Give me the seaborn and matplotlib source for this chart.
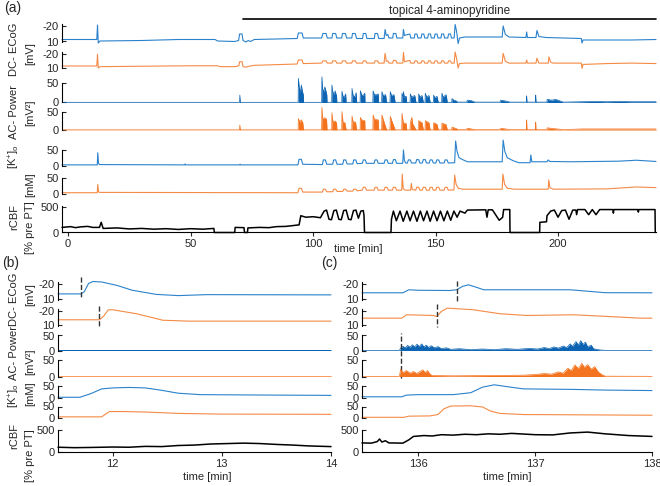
import numpy as np
import matplotlib
matplotlib.use("Agg")
import matplotlib.pyplot as plt
import seaborn as sns

sns.set_style("white")
plt.rcParams['font.family'] = ['Liberation Sans', 'DejaVu Sans']
plt.rcParams['axes.unicode_minus'] = False
plt.rcParams['mathtext.fontset'] = 'custom'
plt.rcParams['mathtext.rm'] = 'Liberation Sans'

BLUE = '#2a82cc'
ORANGE = '#f58a44'
BLUE_FILL = '#0c64b2'
ORANGE_FILL = '#f4731f'

### panel (a): (time [min], value) break points
a_dc_blue = [(-2.5, 6), (11.7, 6), (12.0, -23), (12.3, 13), (13, 9), (30, 8), (45, 6), (60, 6), (61, 9), (68, 10),
             (69.6, 8), (70.0, -5), (71.0, -5), (71.4, 8), (72.5, 11), (73.5, 8), (74.5, 10), (76, 6), (93.5, 4),
             (94.0, -7), (95.5, -7), (96.0, 3), (103.5, 3), (104.0, -6), (105.3, -6), (105.8, 3), (107.7, 3),
             (108.0, -6), (109.2, -6), (109.7, 3), (111.7, 3), (112.0, -6), (113.2, -6), (113.7, 3), (115.8, 3),
             (116.1, -6), (117.2, -6), (117.8, 4), (120.2, 4), (120.5, -6), (121.5, -6), (122.0, 4), (125.0, 4),
             (125.3, -6), (126.3, -6), (126.8, 4), (129.0, 4), (129.4, -14), (129.9, -2), (130.5, -4), (131.0, 3),
             (132.5, 3), (132.8, -6), (133.8, -6), (134.2, 3), (136.6, 3), (136.9, -14), (137.3, -2), (138.6, -4),
             (139.5, -5), (139.9, 3), (141.3, 3), (141.6, -5), (142.4, -5), (142.8, 3), (144.1, 3), (144.4, -5),
             (145.2, -5), (145.6, 3), (146.8, 3), (147.1, -5), (147.9, -5), (148.3, 3), (149.5, 3), (149.8, -5),
             (150.6, -5), (151.0, 3), (152.2, 3), (152.5, -5), (153.3, -5), (153.7, 3), (155.0, 3), (155.3, -5),
             (156.1, -5), (156.5, 3), (157.6, 3), (158.0, -24), (158.6, -10), (159.2, 14), (159.8, 3), (162, 1),
             (170, 1), (177.2, 1), (177.6, -21), (178.5, -4), (180, 1), (186.9, 2), (187.2, -9), (187.5, 2),
             (191.0, 2), (191.4, -12), (192.2, 0), (195, 2), (209.5, 4), (209.8, 13), (210.2, 7), (220, 7),
             (230, 7), (240, 6)]
a_dc_orange = [(-2.5, 6.5), (11.7, 6.5), (12.0, -20), (12.3, 11), (13, 8), (30, 7), (50, 6), (61, 6), (62, 8),
               (68, 8), (69.7, 6), (70.0, -3), (71.0, -3), (71.4, 8), (72.5, 9), (74, 7), (76, 5), (93.5, 2),
               (94.0, -7), (95.5, -7), (96.0, 1), (103.5, 0), (104.0, -5), (105.3, -5), (105.8, 0), (107.7, 0),
               (108.0, -5), (109.2, -5), (109.7, 0), (111.7, 0), (112.0, -5), (113.2, -5), (113.7, 0), (115.8, 0),
               (116.1, -5), (117.2, -5), (117.8, 0), (120.2, 0), (120.5, -5), (121.5, -5), (122.0, 0), (125.0, 0),
               (125.3, -5), (126.3, -5), (126.8, 0), (129.0, 0), (129.4, -22), (129.9, -4), (130.5, -5), (131, 0),
               (132.5, 0), (132.8, -6), (133.8, -6), (134.2, 0), (136.6, 0), (136.9, -24), (137.3, -3), (138.6, -5),
               (139.5, -6), (139.9, 0), (141.3, 0), (141.6, -5), (142.4, -5), (142.8, 0), (144.1, 0), (144.4, -5),
               (145.2, -5), (145.6, 0), (146.8, 0), (147.1, -5), (147.9, -5), (148.3, 0), (149.5, 0), (149.8, -5),
               (150.6, -5), (151.0, 0), (152.2, 0), (152.5, -5), (153.3, -5), (153.7, 0), (155.0, 0), (155.3, -5),
               (156.1, -5), (156.5, 0), (157.6, 0), (158.0, -25), (158.6, -10), (159.2, 11), (159.8, 1), (162, 0),
               (170, 0), (177.2, 0), (177.6, -22), (178.5, -4), (180, 0), (186.9, 0), (187.2, -7), (187.5, 0),
               (191.0, 0), (191.4, -11), (192.2, 0), (196.0, 0), (196.3, -14), (197, -2), (198, 0), (209.5, 0),
               (209.8, 12), (210.2, 3), (220, 1), (230, 0), (240, 1)]
a_ac_blue = [(-2.5, 0.5), (70.0, 0.5), (70.1, 19), (70.3, 0.5), (93.9, 0.5), (94.0, 62), (94.3, 40), (94.8, 25),
             (95.2, 45), (95.6, 30), (96.0, 20), (96.1, 0.5), (103.5, 0.5), (103.6, 66), (103.9, 35), (104.3, 28),
             (104.8, 40), (105.3, 28), (105.6, 20), (105.7, 0.5), (107.6, 0.5), (107.7, 45), (108.0, 28),
             (108.6, 20), (109.0, 30), (109.6, 16), (109.7, 0.5), (111.7, 0.5), (111.8, 29), (112.2, 16),
             (112.8, 14), (113.3, 22), (113.5, 0.5), (115.8, 0.5), (115.9, 36), (116.3, 18), (117.0, 15),
             (117.6, 25), (117.8, 0.5), (119.2, 0.5), (119.3, 30), (119.8, 20), (120.5, 18), (121.1, 24),
             (121.2, 0.5), (124.4, 0.5), (124.5, 30), (125.0, 20), (126.0, 20), (126.6, 22), (126.7, 0.5),
             (128.0, 0.5), (128.1, 28), (128.6, 18), (129.6, 20), (130.0, 0.5), (131.4, 0.5), (131.5, 28),
             (132.0, 18), (133.0, 20), (133.5, 0.5), (136.2, 0.5), (136.3, 24), (136.8, 14), (136.9, 28),
             (137.2, 14), (138.0, 16), (138.2, 0.5), (139.6, 0.5), (139.7, 22), (140.2, 14), (141.5, 18),
             (142.0, 0.5), (143.0, 0.5), (143.1, 22), (143.6, 14), (144.5, 18), (145.0, 0.5), (145.7, 0.5),
             (145.8, 24), (146.3, 14), (147.3, 18), (147.8, 0.5), (149.1, 0.5), (149.2, 19), (149.7, 12),
             (150.6, 16), (151.1, 0.5), (152.5, 0.5), (152.6, 24), (153.1, 14), (154.3, 20), (154.8, 0.5),
             (156.6, 0.5), (156.7, 10), (157.5, 6), (158.5, 4), (159, 1), (162.7, 1), (163.0, 6), (164.5, 5),
             (166.1, 1), (176.3, 1), (176.6, 6), (178.5, 4), (180.4, 1), (187.1, 1), (187.2, 17), (187.3, 1),
             (190.8, 1), (190.9, 19), (191.0, 1), (195.4, 1), (195.6, 8), (197.5, 6), (199, 8), (202.2, 1),
             (210, 2), (215, 3), (220, 2), (225, 3), (230, 2), (240, 2)]
a_ac_orange = [(-2.5, 0.5), (70.0, 0.5), (70.1, 14), (70.3, 0.5), (93.9, 0.5), (94.0, 32), (94.5, 22), (95.2, 28),
               (95.8, 20), (96.1, 0.5), (103.5, 0.5), (103.6, 63), (103.9, 32), (104.8, 34), (105.5, 30),
               (105.7, 0.5), (107.6, 0.5), (107.7, 48), (108.1, 23), (109.0, 25), (109.6, 20), (109.7, 0.5),
               (111.7, 0.5), (111.8, 51), (112.2, 22), (113.0, 20), (113.5, 0.5), (115.8, 0.5), (115.9, 39),
               (116.3, 23), (117.3, 22), (117.8, 0.5), (119.2, 0.5), (119.3, 35), (119.8, 28), (121.1, 26),
               (121.2, 0.5), (124.4, 0.5), (124.5, 42), (125.0, 30), (126.6, 28), (126.7, 0.5), (128.0, 0.5),
               (128.1, 42), (128.6, 30), (130.0, 0.5), (131.4, 0.5), (131.5, 38), (132.0, 28), (133.5, 0.5),
               (136.2, 0.5), (136.3, 46), (136.8, 20), (138.0, 18), (138.2, 0.5), (139.6, 0.5), (139.7, 20),
               (140.3, 35), (140.6, 18), (142.0, 0.5), (143.0, 0.5), (143.1, 26), (144.5, 20), (145.0, 0.5),
               (145.7, 0.5), (145.8, 26), (147.3, 20), (147.8, 0.5), (149.1, 0.5), (149.2, 20), (150.6, 16),
               (151.1, 0.5), (152.5, 0.5), (152.6, 19), (154.3, 15), (154.8, 0.5), (156.6, 0.5), (156.7, 8),
               (158.5, 4), (159, 1), (162.7, 1), (163, 5), (166.1, 1), (176.3, 1), (176.6, 5), (180.4, 1),
               (187.1, 1), (187.2, 28), (187.3, 1), (190.8, 1), (190.9, 22), (191.0, 1), (195.4, 1), (195.6, 6),
               (202.2, 1), (210, 3), (220, 3), (230, 3), (240, 3)]
a_k_blue = [(-2.5, 2), (11.9, 2), (12.1, 41), (12.4, 8), (12.8, 3), (47.6, 2), (47.8, 5), (48.0, 2), (70, 2),
            (70.2, 4), (70.4, 2), (93.8, 2), (94.3, 20), (95.2, 20), (95.8, 4), (103.8, 3), (104.2, 18),
            (105.0, 18), (105.6, 4), (108.0, 4), (108.4, 18), (109.2, 18), (109.8, 4), (112.1, 4), (112.5, 18),
            (113.3, 18), (113.9, 5), (116.2, 5), (116.6, 18), (117.4, 18), (118.0, 6), (120.1, 7), (120.5, 18),
            (121.3, 18), (121.8, 7), (124.9, 7), (125.3, 18), (126.1, 18), (126.6, 7), (129.0, 7), (129.4, 18),
            (130.2, 18), (130.7, 7), (132.4, 7), (132.8, 19), (133.6, 19), (134.1, 7), (136.6, 7), (136.9, 50),
            (137.3, 16), (137.8, 8), (138.5, 8), (138.9, 18), (139.7, 18), (140.2, 8), (141.9, 8), (142.3, 19),
            (143.1, 19), (143.6, 8), (144.6, 8), (145.0, 19), (145.8, 19), (146.3, 8), (147.4, 8), (147.8, 18),
            (148.6, 18), (149.1, 8), (150.1, 8), (150.5, 18), (151.3, 18), (151.8, 8), (153.5, 8), (153.9, 18),
            (154.7, 18), (155.2, 8), (157.8, 9), (158.2, 79), (158.8, 45), (159.6, 25), (161.3, 18), (163, 12),
            (170, 12), (177.2, 12), (177.6, 82), (178.3, 45), (179.3, 25), (181.8, 15), (184, 9), (188.6, 9),
            (188.9, 34), (189.3, 12), (195.5, 12), (196.0, 18), (196.6, 13), (205, 12), (215, 13), (225, 14),
            (232, 17), (240, 13)]
a_k_orange = [(-2.5, 4), (11.9, 4), (12.1, 30), (12.4, 8), (12.8, 5), (93.8, 4), (94.3, 18), (95.2, 18),
              (95.8, 6), (103.8, 6), (104.2, 15), (105.0, 15), (105.6, 7), (108.0, 7), (108.4, 15), (109.2, 15),
              (109.8, 8), (112.1, 8), (112.5, 15), (113.3, 15), (113.9, 9), (116.2, 9), (116.6, 15), (117.4, 15),
              (118.0, 10), (120.1, 12), (120.5, 21), (121.3, 21), (121.8, 12), (124.9, 12), (125.3, 21),
              (126.1, 21), (126.6, 12), (129.0, 12), (129.4, 21), (130.2, 21), (130.7, 12), (132.4, 12),
              (132.8, 21), (133.6, 21), (134.1, 12), (136.2, 12), (136.4, 62), (136.8, 18), (137.5, 12),
              (139.8, 12), (140.1, 33), (140.5, 14), (141.9, 12), (142.3, 21), (143.1, 21), (143.6, 12),
              (144.6, 12), (145.0, 21), (145.8, 21), (146.3, 12), (147.4, 12), (147.8, 21), (148.6, 21),
              (149.1, 12), (150.1, 12), (150.5, 21), (151.3, 21), (151.8, 12), (153.5, 12), (153.9, 21),
              (154.7, 21), (155.2, 12), (157.5, 13), (157.8, 59), (158.4, 30), (159.3, 18), (161, 15), (177.2, 15),
              (177.5, 62), (178.2, 30), (179.3, 18), (182, 15), (196.0, 15), (196.2, 44), (196.7, 20), (198, 15),
              (220, 16), (232, 22), (240, 20)]
a_cbf = [(-2.5, 100), (1, 115), (3, 95), (5, 110), (8, 120), (10, 100), (12.8, 100), (13.5, 200), (14.3, 80),
         (20, 90), (25, 70), (30, 80), (35, 65), (40, 75), (45, 60), (50, 75), (55, 65), (59.5, 80), (59.7, 0),
         (68.0, 0), (68.2, 100), (71.8, 95), (72.0, 0), (73.2, 0), (73.4, 90), (78, 100), (82, 95), (85, 115),
         (89, 120), (94.3, 150), (95.0, 330), (97, 300), (100, 310), (103, 290), (104.5, 420), (105.5, 440),
         (106.5, 260), (107.5, 250), (108.5, 430), (109.5, 440), (110.5, 260), (111.5, 250), (112.5, 430),
         (113.5, 440), (114.5, 260), (115.5, 250), (116.5, 430), (117.5, 440), (118.5, 280), (119.5, 420),
         (120.5, 430), (120.8, 330), (121.0, 0), (131.8, 0), (132.0, 260), (132.8, 420), (134.0, 230),
         (135.5, 420), (136.8, 220), (138.3, 420), (139.6, 230), (141.0, 420), (142.4, 220), (143.8, 420),
         (145.1, 230), (146.5, 420), (147.8, 220), (149.2, 420), (150.6, 230), (152.0, 420), (153.4, 230),
         (154.8, 420), (156.2, 240), (157.5, 420), (158.8, 300), (160.0, 420), (161.0, 400), (162.0, 380),
         (163.0, 440), (170.5, 445), (171.0, 300), (171.5, 445), (173.2, 445), (174.5, 350), (176.0, 240),
         (177.4, 300), (177.8, 450), (180.3, 450), (180.4, 0), (192.5, 0), (192.6, 200), (195.3, 210),
         (195.5, 330), (197, 420), (198.5, 440), (200, 300), (201.5, 430), (203, 440), (204.5, 260), (206, 440),
         (207.3, 440), (207.6, 350), (208, 450), (211, 450), (212.5, 350), (214, 450), (215.5, 350), (217, 450),
         (222.4, 450), (222.6, 380), (222.8, 450), (232.6, 450), (232.8, 400), (233, 450), (239.6, 450),
         (239.7, 0)]
a_drug = [71.5, 240]

### panel (b)
b_dc_blue = [(11.5, -0.5), (11.71, -0.5), (11.74, -5), (11.78, -22), (11.82, -26), (11.9, -25), (12.04, -18),
             (12.18, -8), (12.4, 0.5), (12.6, 3), (12.86, 1), (14.0, 1.5)]
b_dc_orange = [(11.5, -1.5), (11.88, -1.5), (11.92, -10), (11.96, -23), (12.0, -23.4), (12.22, -14.6),
               (12.46, -0.5), (12.7, 1.5), (14.0, 1.5)]
b_ac = [(11.5, 0.5), (14.0, 0.5)]
b_k_blue = [(11.5, 3), (11.7, 3), (11.8, 18), (11.9, 38), (12.0, 42), (12.15, 44), (12.3, 42), (12.45, 32),
            (12.6, 20), (12.8, 14), (13.5, 12), (14.0, 11)]
b_k_orange = [(11.5, 5), (11.9, 5), (11.93, 15), (11.97, 28), (12.1, 28), (12.3, 26), (12.6, 20), (13.0, 17),
              (14.0, 16)]
b_cbf = [(11.5, 110), (11.65, 100), (11.8, 105), (12.0, 115), (12.15, 110), (12.3, 130), (12.45, 125),
         (12.6, 150), (12.75, 160), (12.9, 185), (13.05, 195), (13.2, 205), (13.35, 195), (13.5, 175),
         (13.65, 160), (13.8, 140), (14.0, 125)]
b_marks = [11.71, 11.88]

### panel (c)
c_dc_blue = [(135.52, -2.8), (135.87, -2.8), (135.92, -9), (136.0, -8), (136.27, -7.5), (136.33, -9), (136.38, -16),
             (136.43, -19.3), (136.5, -14), (136.56, -9), (137.0, -9), (137.3, -9), (137.6, -3), (138.0, -2.8)]
c_dc_orange = [(135.52, -5), (135.86, -5), (135.9, -12.4), (136.13, -10.9), (136.16, -8.7), (136.2, -20),
               (136.25, -26.9), (136.47, -23.4), (136.7, -14.6), (136.93, -10.9), (137.33, -12.4), (137.6, -9),
               (137.9, -5), (138.0, -5)]
c_ac_blue = [(135.52, 0.5), (135.84, 0.5), (135.85, 8), (135.87, 14), (135.89, 9), (135.91, 17), (135.93, 11),
             (135.95, 19), (135.97, 12), (135.99, 21), (136.01, 13), (136.03, 22), (136.05, 12), (136.07, 18),
             (136.09, 10), (136.11, 16), (136.14, 9), (136.17, 13), (136.2, 6), (136.24, 9), (136.28, 4),
             (136.35, 6), (136.45, 3), (136.55, 5), (136.65, 3), (136.75, 6), (136.85, 4), (136.95, 7), (137.02, 5),
             (137.08, 10), (137.12, 6), (137.16, 12), (137.2, 8), (137.24, 15), (137.27, 10), (137.3, 22),
             (137.32, 14), (137.35, 30), (137.37, 18), (137.39, 33), (137.41, 20), (137.43, 28), (137.45, 12),
             (137.48, 18), (137.5, 6), (137.55, 2), (137.6, 0.5), (138.0, 0.5)]
c_ac_orange = [(135.52, 0.5), (135.84, 0.5), (135.85, 22), (135.87, 12), (135.9, 18), (135.93, 10), (135.96, 15),
               (135.99, 9), (136.02, 16), (136.04, 20), (136.06, 12), (136.08, 18), (136.1, 8), (136.12, 3),
               (136.3, 2), (136.6, 3), (136.9, 4), (137.0, 6), (137.08, 9), (137.14, 7), (137.2, 14), (137.24, 10),
               (137.28, 25), (137.31, 18), (137.34, 35), (137.37, 24), (137.4, 40), (137.42, 28), (137.45, 36),
               (137.48, 22), (137.51, 30), (137.54, 14), (137.57, 6), (137.6, 1), (138.0, 0.5)]
c_k_blue = [(135.52, 5), (135.86, 5), (135.9, 12), (136.0, 14), (136.3, 14), (136.45, 22), (136.55, 45),
            (136.65, 55), (136.75, 48), (136.9, 38), (137.3, 36), (137.6, 33), (138.0, 31)]
c_k_orange = [(135.52, 3), (135.88, 3), (135.92, 8), (136.1, 9), (136.17, 15), (136.22, 40), (136.28, 52),
              (136.45, 53), (136.55, 48), (136.62, 30), (136.7, 20), (136.9, 15), (137.3, 14), (138.0, 12)]
c_cbf = [(135.52, 210), (135.6, 205), (135.65, 240), (135.67, 300), (135.69, 230), (135.72, 260), (135.75, 210),
         (135.87, 205), (135.92, 280), (135.96, 360), (136.05, 380), (136.12, 370), (136.2, 400), (136.3, 390),
         (136.4, 410), (136.5, 400), (136.6, 420), (136.7, 410), (136.8, 430), (136.9, 415), (137.0, 400),
         (137.15, 395), (137.3, 440), (137.45, 460), (137.6, 420), (137.8, 380), (138.0, 360)]
c_marks_dc = [136.33, 136.16]
c_mark_ac = 135.85

W, H = 660, 486
fig = plt.figure(figsize=(6.6, 4.86), dpi=100)


def px_axes(x0, x1, y0, y1):
    return fig.add_axes([x0 / W, 1 - y1 / H, (x1 - x0) / W, (y1 - y0) / H])


def px_text(x, y, s, **kw):
    fig.text(x / W, 1 - y / H, s, **kw)


def trace(ax, pts, color, lw=0.8):
    t, v = np.array(pts).T
    sns.lineplot(x=t, y=v, ax=ax, color=color, lw=lw, estimator=None, sort=False, clip_on=False)


def power(ax, pts, fill):
    t, v = np.array(pts).T
    ax.fill_between(t, 0, v, color=fill, lw=0, clip_on=False)
    sns.lineplot(x=t, y=v, ax=ax, color=fill, lw=0.5, estimator=None, sort=False, clip_on=False)


def style(ax, xlim, kind, last=False):
    ax.set_xlim(xlim)
    if kind == 'dc':
        ax.set_ylim(11, -25)
        ax.set_yticks([-20, 10])
    elif kind == 'cbf':
        ax.set_ylim(0, 520)
        ax.set_yticks([0, 500])
    else:
        ax.set_ylim(0, 50)
        ax.set_yticks([0, 50])
    ax.set_xlabel('')
    ax.set_ylabel('')
    ax.patch.set_alpha(0)
    for s in ['top', 'right']:
        ax.spines[s].set_visible(False)
    ax.spines['bottom'].set_visible(last)
    for s in ['left', 'bottom']:
        ax.spines[s].set_linewidth(0.8)
        ax.spines[s].set_color('black')
    ax.tick_params(axis='y', direction='in', length=3, width=0.8, labelsize=8, pad=2.5, left=True)
    if last:
        ax.tick_params(axis='x', direction='out', length=3, width=0.8, labelsize=8, pad=2, bottom=True)
    else:
        ax.set_xticks([])


kinds = ['dc', 'dc', 'ac', 'ac', 'k', 'k', 'cbf']
A_ROWS = [(24, 42), (52, 68), (83, 102.5), (112, 130), (150, 165.5), (178, 194), (206, 232.5)]
BC_ROWS = [(282, 299.5), (309, 325.5), (335.5, 350.5), (360, 376.5), (386, 398), (406.5, 418), (429.5, 452)]

a_axes = [px_axes(62, 656, r[0], r[1]) for r in A_ROWS]
a_data = [a_dc_blue, a_dc_orange, a_ac_blue, a_ac_orange, a_k_blue, a_k_orange, a_cbf]
b_axes = [px_axes(58, 331, r[0], r[1]) for r in BC_ROWS]
b_data = [b_dc_blue, b_dc_orange, b_ac, b_ac, b_k_blue, b_k_orange, b_cbf]
c_axes = [px_axes(362, 652, r[0], r[1]) for r in BC_ROWS]
c_data = [c_dc_blue, c_dc_orange, c_ac_blue, c_ac_orange, c_k_blue, c_k_orange, c_cbf]

for axes, data, xlim in [(a_axes, a_data, (-2.5, 240)), (b_axes, b_data, (11.5, 14)), (c_axes, c_data, (135.52, 138))]:
    for i, (ax, pts) in enumerate(zip(axes, data)):
        if kinds[i] == 'ac':
            power(ax, pts, BLUE_FILL if i == 2 else ORANGE_FILL)
        elif kinds[i] == 'cbf':
            trace(ax, pts, 'black', lw=1.1)
        else:
            trace(ax, pts, BLUE if i % 2 == 0 else ORANGE)
        style(ax, xlim, kinds[i], last=(i == 6))

a_axes[6].set_xticks([0, 50, 100, 150, 200])
b_axes[6].set_xticks([12, 13, 14])
c_axes[6].set_xticks([136, 137, 138])

# drug application bar
ax = a_axes[0]
ax.plot(a_drug, [1.26, 1.26], color='black', lw=1.2, transform=ax.get_xaxis_transform(), clip_on=False)
ax.text(np.mean(a_drug), 1.72, 'topical 4-aminopyridine', fontsize=8.5,
        ha='center', va='center', transform=ax.get_xaxis_transform())

# dashed onset marks
b_axes[0].vlines(b_marks[0], -36, 7, colors='#333333', linestyles='--', lw=1, clip_on=False)
b_axes[1].vlines(b_marks[1], -30.6, 15.4, colors='#333333', linestyles='--', lw=1, clip_on=False)
c_axes[0].vlines(c_marks_dc[0], -28, 17.8, colors='#333333', linestyles='--', lw=1, clip_on=False)
c_axes[1].vlines(c_marks_dc[1], -36.5, 13.2, colors='#333333', linestyles='--', lw=1, clip_on=False)
c_axes[2].vlines(c_mark_ac, -92, 57, colors='#333333', linestyles='--', lw=1, clip_on=False, zorder=5)

# labels
px_text(4, 8, '(a)', fontsize=10, ha='left', va='center')
px_text(2, 263, '(b)', fontsize=10, ha='left', va='center')
px_text(321, 263, '(c)', fontsize=10, ha='left', va='center')
lab = dict(fontsize=8, rotation=90, ha='center', va='center')
px_text(14, 49, 'DC- ECoG', **lab)
px_text(30, 54, '[mV]', **lab)
px_text(14, 112, 'AC- Power', **lab)
px_text(30, 113, '[mV²]', **lab)
px_text(14, 157, r'[K$^{+}$]$_{\rm o}$', **lab)
px_text(30, 185, '[mM]', **lab)
px_text(14, 217, 'rCBF', **lab)
px_text(30, 228, '[% pre PT]', **lab)
px_text(14, 299, 'DC- ECoG', **lab)
px_text(30, 295, '[mV]', **lab)
px_text(14, 353, 'AC- Power', **lab)
px_text(30, 362, '[mV²]', **lab)
px_text(14, 396, r'[K$^{+}$]$_{\rm o}$', **lab)
px_text(30, 394, '[mM]', **lab)
px_text(14, 436, 'rCBF', **lab)
px_text(30, 456, '[% pre PT]', **lab)
px_text(358, 249, 'time [min]', fontsize=8, ha='center', va='center')
px_text(207, 477, 'time [min]', fontsize=8, ha='center', va='center')
px_text(507, 477, 'time [min]', fontsize=8, ha='center', va='center')

fig.savefig('out.png', dpi=100)
